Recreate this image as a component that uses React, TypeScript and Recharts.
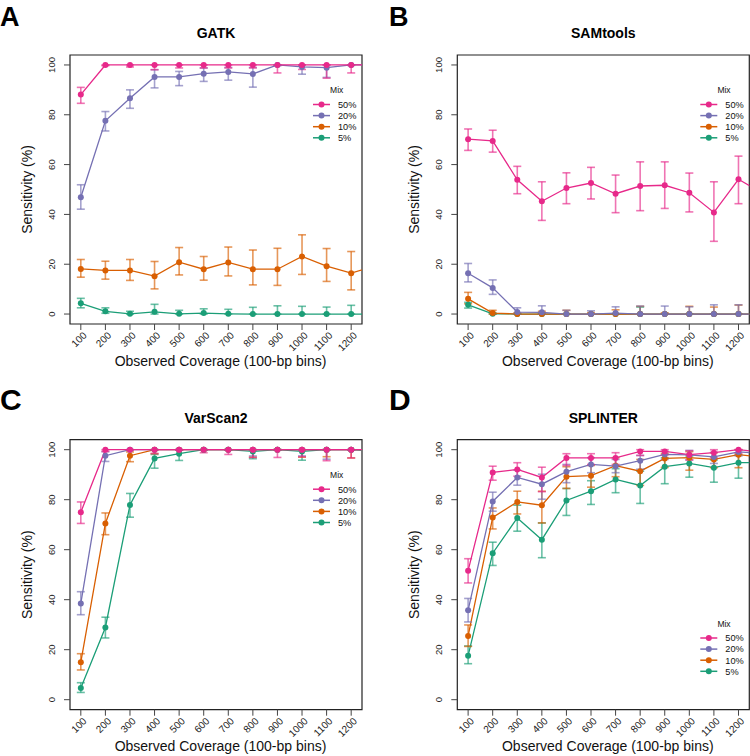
import React from 'react';
import { LineChart, Line, XAxis, YAxis, ErrorBar, ReferenceArea } from 'recharts';

const FONT = '"Liberation Sans", Arial, Helvetica, sans-serif';

// Observed coverage (100-bp bins); 1300 lies beyond the clipped right edge of the frame
const coverage = [100, 200, 300, 400, 500, 600, 700, 800, 900, 1000, 1100, 1200, 1300];
const xTicks = [100, 200, 300, 400, 500, 600, 700, 800, 900, 1000, 1100, 1200];
const yTicks = [0, 20, 40, 60, 80, 100];
const mixLabels = ['50%', '20%', '10%', '5%'];
const mixColors = ['#E7298A', '#7570B3', '#D95F02', '#1B9E77'];

// ---- A: GATK ----
const gatk50 = [88.1, 100, 100, 100, 100, 100, 100, 100, 100, 100, 100, 100, 100];
const gatk50Lo = [84.6, 99.7, 99.2, 98.1, 98.8, 98.8, 98.8, 98.8, 96.8, 98.2, 94.7, 96.8];
const gatk50Hi = [91.0, 100, 100, 100, 100, 100, 100, 100, 100, 100, 100, 100];
const gatk20 = [46.9, 77.6, 86.6, 95.2, 95.2, 96.5, 97.2, 96.4, 100, 99.2, 98.9, 100, 100];
const gatk20Lo = [42.1, 73.5, 82.6, 90.8, 91.7, 93.4, 93.9, 91.1, 99.7, 96.3, 95.0, 99.8];
const gatk20Hi = [51.9, 81.3, 90.0, 98.1, 97.4, 98.8, 99.0, 99.0, 100, 100, 100, 100];
const gatk10 = [18.1, 17.5, 17.5, 15.2, 20.8, 18.0, 20.7, 18.0, 18.0, 23.1, 19.2, 16.4, 19.4];
const gatk10Lo = [14.8, 14.0, 13.5, 10.1, 15.7, 13.6, 15.3, 11.7, 11.5, 15.9, 13.1, 9.7];
const gatk10Hi = [21.9, 21.2, 21.9, 21.1, 26.7, 23.1, 26.9, 25.7, 26.4, 31.8, 26.3, 25.1];
const gatk5 = [4.3, 1.1, 0.1, 0.9, 0.1, 0.4, 0.1, 0, 0, 0, 0, 0, 0];
const gatk5Lo = [2.5, 0.3, 0, 0, 0, 0, 0, 0, 0, 0, 0, 0];
const gatk5Hi = [6.3, 2.5, 1.1, 3.9, 1.5, 2.1, 1.9, 2.7, 3.3, 3.1, 2.8, 3.5];

// ---- B: SAMtools ----
const sam50 = [70.2, 69.5, 53.9, 45.3, 50.6, 52.6, 48.3, 51.4, 51.7, 48.7, 40.8, 54.1, 48.4];
const sam50Lo = [65.7, 65.0, 48.3, 37.6, 44.3, 46.2, 40.7, 41.5, 42.4, 41.0, 29.2, 44.3];
const sam50Hi = [74.3, 73.8, 59.3, 53.1, 56.7, 58.9, 55.8, 61.1, 61.1, 56.6, 53.1, 63.4];
const sam20 = [16.4, 10.5, 0.8, 0.7, 0, 0, 0.4, 0, 0, 0, 0, 0, 0];
const sam20Lo = [12.9, 7.9, 0, 0, 0, 0, 0, 0, 0, 0, 0, 0];
const sam20Hi = [20.3, 13.7, 2.5, 3.3, 1.5, 1.3, 2.9, 3.2, 3.2, 2.9, 3.7, 3.7];
const sam10 = [6.1, 0.4, 0, 0, 0, 0, 0, 0, 0, 0, 0, 0, 0];
const sam10Lo = [4.1, 0, 0, 0, 0, 0, 0, 0, 0, 0, 0, 0];
const sam10Hi = [8.7, 1.5, 0.5, 1.1, 1.5, 0.5, 1.7, 3.1, 0.5, 3.1, 2.8, 3.6];
const sam5 = [3.7, 0.1, 0, 0, 0, 0, 0, 0, 0, 0, 0, 0, 0];
const sam5Lo = [2.4, 0, 0, 0, 0, 0, 0, 0, 0, 0, 0, 0];
const sam5Hi = [4.7, 0.5, 0, 0, 0, 0, 0, 2.8, 0, 0, 0, 0];

// ---- C: VarScan2 ----
const vs50 = [75.0, 100, 100, 100, 100, 100, 100, 100, 100, 100, 100, 100, 100];
const vs50Lo = [70.5, 99.3, 100, 98.5, 100, 98.8, 98.1, 96.9, 96.9, 97.2, 95.6, 96.7];
const vs50Hi = [79.1, 100, 100, 100, 100, 100, 100, 100, 100, 100, 100, 100];
const vs20 = [38.5, 97.6, 100, 100, 100, 100, 100, 100, 100, 100, 100, 100, 100];
const vs20Lo = [34.0, 95.3, 100, 100, 100, 100, 100, 97.5, 100, 97.5, 96.2, 100];
const vs20Hi = [43.2, 99.2, 100, 100, 100, 100, 100, 100, 100, 100, 100, 100];
const vs10 = [15.0, 70.5, 97.6, 100, 100, 100, 100, 100, 100, 100, 100, 100, 100];
const vs10Lo = [11.9, 66.0, 95.2, 98.4, 100, 100, 100, 97.0, 100, 97.0, 97.2, 96.7];
const vs10Hi = [18.4, 74.7, 99.1, 100, 100, 100, 100, 100, 100, 100, 100, 100];
const vs5 = [4.7, 28.9, 77.9, 96.5, 98.4, 100, 100, 99.3, 100, 99.3, 100, 100, 99.5];
const vs5Lo = [2.9, 24.7, 73.0, 92.6, 95.7, 100, 100, 96.4, 100, 95.8, 100, 100];
const vs5Hi = [6.8, 33.0, 82.5, 98.1, 100, 100, 100, 100, 100, 100, 100, 100];

// ---- D: SPLINTER ----
const sp50 = [51.6, 90.9, 92.1, 88.9, 96.7, 96.7, 96.7, 99.3, 99.3, 98.0, 98.8, 100, 99.0];
const sp50Lo = [46.7, 87.8, 89.4, 83.2, 93.7, 94.1, 94.1, 97.7, 98.0, 95.9, 96.8, 98.5];
const sp50Hi = [56.4, 93.4, 94.8, 93.0, 98.4, 98.4, 98.8, 100, 100, 99.6, 100, 100];
const sp20 = [35.8, 79.3, 88.9, 86.2, 91.2, 94.1, 93.4, 95.6, 98.1, 97.9, 97.1, 99.1, 98.5];
const sp20Lo = [31.1, 75.4, 85.8, 80.2, 86.8, 90.8, 90.8, 92.2, 96.1, 95.9, 94.5, 97.5];
const sp20Hi = [40.5, 83.0, 91.8, 90.2, 94.1, 96.8, 96.1, 97.7, 99.3, 99.7, 98.9, 100];
const sp10 = [25.5, 72.9, 79.1, 77.8, 89.2, 89.6, 93.6, 91.4, 96.5, 96.8, 96.1, 98.0, 97.0];
const sp10Lo = [21.3, 68.3, 74.3, 70.7, 84.5, 85.0, 89.2, 85.7, 92.9, 91.8, 92.8, 92.8];
const sp10Hi = [29.9, 76.7, 83.4, 83.4, 93.2, 93.7, 96.8, 96.1, 98.5, 99.2, 98.8, 100];
const sp5 = [17.6, 58.6, 72.7, 64.0, 79.7, 83.4, 88.1, 85.7, 93.2, 94.5, 92.8, 94.8, 94.8];
const sp5Lo = [14.4, 53.7, 67.4, 56.8, 73.7, 78.1, 82.8, 78.5, 86.4, 89.0, 87.0, 88.6];
const sp5Hi = [21.5, 63.0, 77.8, 70.7, 84.5, 87.6, 92.4, 91.4, 96.8, 97.5, 95.9, 98.0];

type Series = { v: number[]; lo: number[]; hi: number[] };

function buildRows(series: Series[]) {
  return coverage.map((c, i) => {
    const row: Record<string, any> = { x: c };
    series.forEach((s, k) => {
      row['s' + k] = s.v[i];
      row['e' + k] =
        s.lo[i] == null || s.hi[i] == null
          ? null
          : [Math.max(0, s.v[i] - s.lo[i]), Math.max(0, s.hi[i] - s.v[i])];
    });
    return row;
  });
}

const gatkRows = buildRows([
  { v: gatk50, lo: gatk50Lo, hi: gatk50Hi },
  { v: gatk20, lo: gatk20Lo, hi: gatk20Hi },
  { v: gatk10, lo: gatk10Lo, hi: gatk10Hi },
  { v: gatk5, lo: gatk5Lo, hi: gatk5Hi },
]);
const samRows = buildRows([
  { v: sam50, lo: sam50Lo, hi: sam50Hi },
  { v: sam20, lo: sam20Lo, hi: sam20Hi },
  { v: sam10, lo: sam10Lo, hi: sam10Hi },
  { v: sam5, lo: sam5Lo, hi: sam5Hi },
]);
const vsRows = buildRows([
  { v: vs50, lo: vs50Lo, hi: vs50Hi },
  { v: vs20, lo: vs20Lo, hi: vs20Hi },
  { v: vs10, lo: vs10Lo, hi: vs10Hi },
  { v: vs5, lo: vs5Lo, hi: vs5Hi },
]);
const spRows = buildRows([
  { v: sp50, lo: sp50Lo, hi: sp50Hi },
  { v: sp20, lo: sp20Lo, hi: sp20Hi },
  { v: sp10, lo: sp10Lo, hi: sp10Hi },
  { v: sp5, lo: sp5Lo, hi: sp5Hi },
]);

const W = 375;
const H = 378;
const YW = 40;
const XH = 30;

type PanelProps = {
  letter: string;
  title: string;
  rows: Record<string, any>[];
  left: number;
  top: number;
  boxLeft: number;
  boxTop: number;
  boxRight: number;
  boxBottom: number;
  legendAtBottom?: boolean;
};

const YTick = (props: any) => {
  const { x, y, payload } = props;
  const tx = x - 7;
  return (
    <text x={tx} y={y} transform={`rotate(-90, ${tx}, ${y})`} textAnchor="middle" fontSize={9.5} fontFamily={FONT} fill="#222">
      {payload.value}
    </text>
  );
};

const XTick = (props: any) => {
  const { x, y, payload } = props;
  const tx = x + 6.5;
  const ty = y + 4;
  return (
    <text x={tx} y={ty} transform={`rotate(-45, ${tx}, ${ty})`} textAnchor="end" fontSize={10} fontFamily={FONT} fill="#222">
      {payload.value}
    </text>
  );
};

function Panel({ letter, title, rows, left, top, boxLeft, boxTop, boxRight, boxBottom, legendAtBottom }: PanelProps) {
  const cx = (boxLeft + boxRight) / 2;
  const cy = (boxTop + boxBottom) / 2;
  const rowY0 = legendAtBottom ? boxBottom - 71.7 : boxTop + 49.5;
  const mixY = legendAtBottom ? boxBottom - 82.4 : boxTop + 38;
  const order = [3, 2, 1, 0];
  const topRow = letter === 'A' || letter === 'B';
  return (
    <div style={{ position: 'absolute', left, top, width: W, height: H }}>
      <LineChart
        width={W}
        height={H}
        data={rows}
        margin={{ top: boxTop, right: W - boxRight, bottom: H - boxBottom - XH, left: boxLeft - YW }}
      >
        <XAxis
          dataKey="x"
          type="number"
          domain={[56, 1244]}
          ticks={xTicks}
          allowDataOverflow
          axisLine={false}
          tickLine={{ stroke: '#444', strokeWidth: 1 }}
          tickSize={6}
          height={XH}
          interval={0}
          tick={<XTick />}
        />
        <YAxis
          type="number"
          domain={[-4, 104]}
          ticks={yTicks}
          allowDataOverflow
          axisLine={false}
          tickLine={{ stroke: '#444', strokeWidth: 1 }}
          tickSize={6}
          width={YW}
          interval={0}
          tick={<YTick />}
        />
        <ReferenceArea x1={56} x2={1244} y1={-4} y2={104} fill="none" stroke="#222" strokeWidth={1.2} ifOverflow="visible" />
        {order.map((k) => (
          <Line
            key={k}
            type="linear"
            dataKey={'s' + k}
            stroke={mixColors[k]}
            strokeWidth={1.3}
            dot={{ r: 3, fill: mixColors[k], stroke: mixColors[k], strokeWidth: 0 }}
            isAnimationActive={false}
          >
            <ErrorBar
              dataKey={'e' + k}
              direction="y"
              width={4}
              stroke={mixColors[k]}
              strokeOpacity={0.65}
              strokeWidth={1.6}
              isAnimationActive={false}
            />
          </Line>
        ))}
      </LineChart>
      <svg
        width={W}
        height={H}
        style={{ position: 'absolute', left: 0, top: 0, pointerEvents: 'none' }}
        fontFamily={FONT}
      >
        <text
          x={letter === 'A' || letter === 'C' ? 0 : 14}
          y={topRow ? 25.5 : 32.3}
          fontSize={topRow ? 27 : 30}
          fontWeight="bold"
          fill="#000"
        >
          {letter}
        </text>
        <text x={cx} y={boxTop - 16.7} fontSize={14} fontWeight="bold" textAnchor="middle" fill="#000">
          {title}
        </text>
        <text
          x={boxLeft - 38}
          y={cy}
          transform={`rotate(-90, ${boxLeft - 38}, ${cy})`}
          fontSize={14}
          textAnchor="middle"
          fill="#111"
        >
          Sensitivity (%)
        </text>
        <text x={cx + 4.5} y={boxBottom + 41.5} fontSize={14} textAnchor="middle" fill="#111">
          Observed Coverage (100-bp bins)
        </text>
        <text x={boxRight - 25.3} y={mixY} fontSize={8.5} textAnchor="middle" fill="#111">
          Mix
        </text>
        {mixLabels.map((lab, i) => {
          const yy = rowY0 + 11.1 * i;
          return (
            <g key={lab}>
              <line x1={boxRight - 49} x2={boxRight - 32} y1={yy} y2={yy} stroke={mixColors[i]} strokeWidth={1.5} />
              <circle cx={boxRight - 40.5} cy={yy} r={3} fill={mixColors[i]} />
              <text x={boxRight - 24} y={yy + 3.3} fontSize={9.2} fill="#111">
                {lab}
              </text>
            </g>
          );
        })}
      </svg>
    </div>
  );
}

export default function App() {
  return (
    <div style={{ position: 'absolute', left: 0, top: 0, width: 750, height: 756, background: '#fff', overflow: 'hidden' }}>
      <Panel letter="A" title="GATK" rows={gatkRows} left={0} top={0} boxLeft={70} boxTop={55} boxRight={362} boxBottom={324} />
      <Panel letter="B" title="SAMtools" rows={samRows} left={375} top={0} boxLeft={82.3} boxTop={55} boxRight={374.3} boxBottom={324} />
      <Panel letter="C" title="VarScan2" rows={vsRows} left={0} top={378} boxLeft={70} boxTop={61.7} boxRight={362} boxBottom={331.7} />
      <Panel
        letter="D"
        title="SPLINTER"
        rows={spRows}
        left={375}
        top={378}
        boxLeft={82.3}
        boxTop={61.7}
        boxRight={374.3}
        boxBottom={331.7}
        legendAtBottom
      />
    </div>
  );
}
